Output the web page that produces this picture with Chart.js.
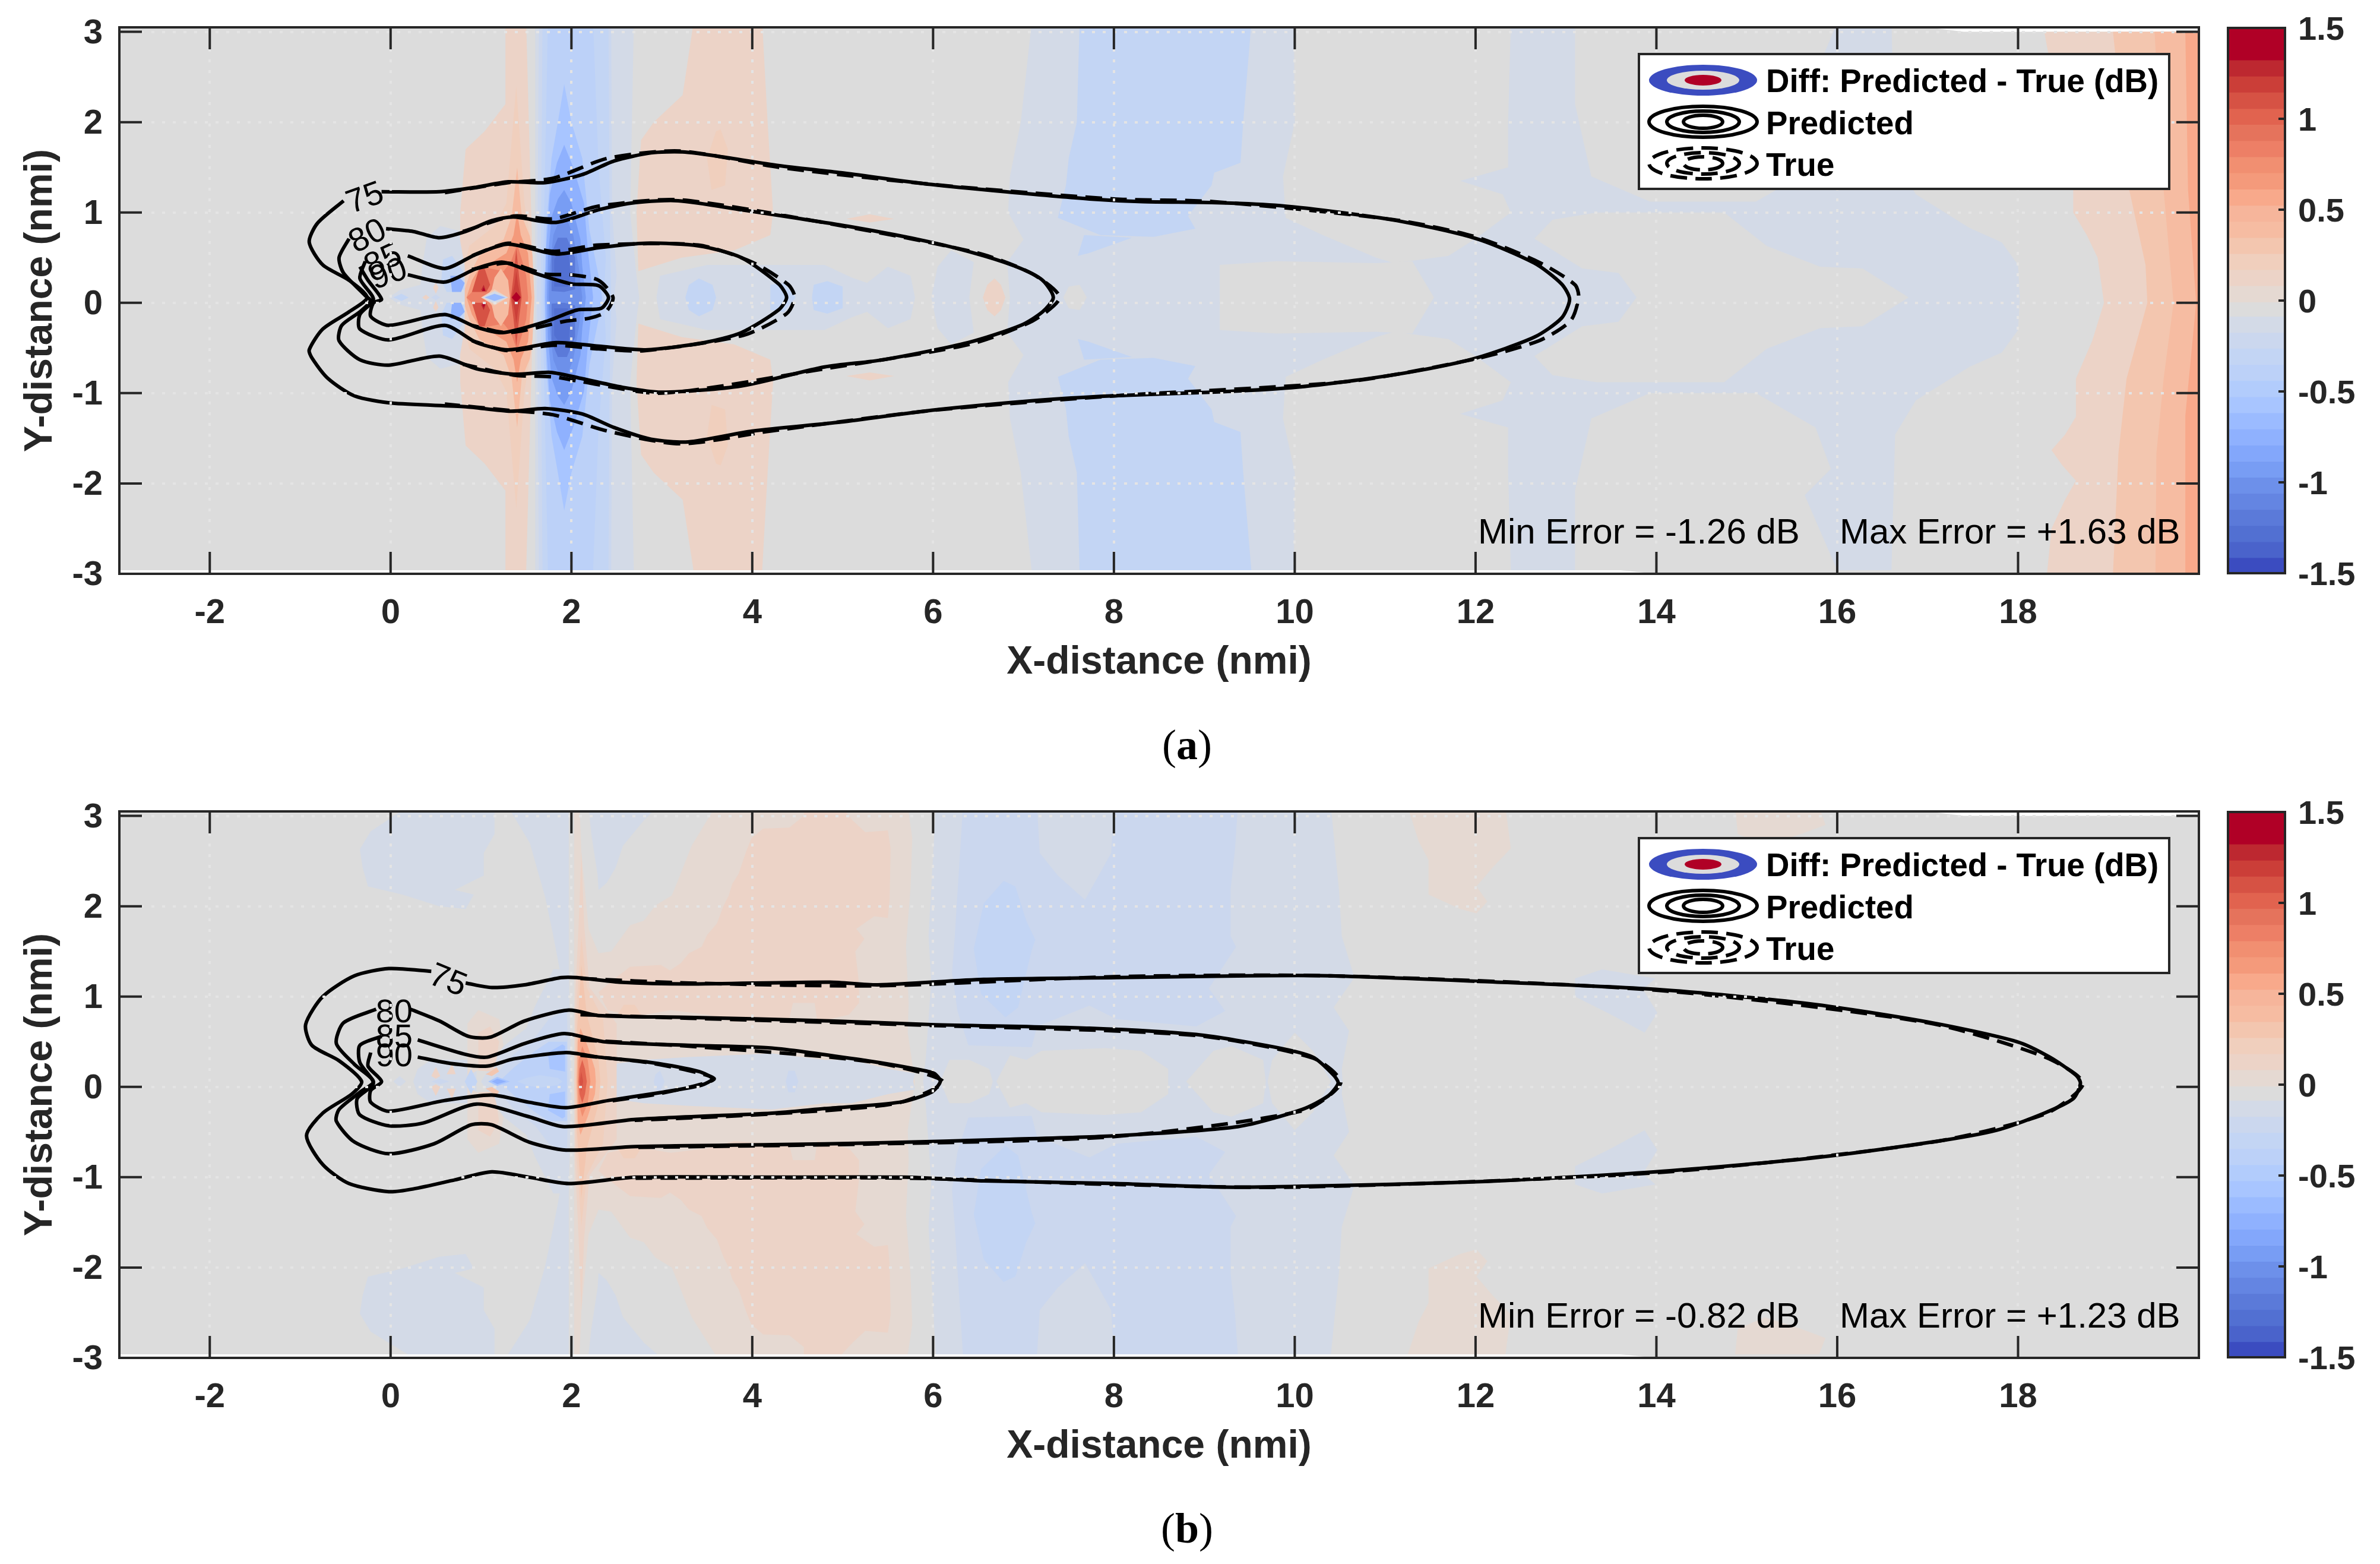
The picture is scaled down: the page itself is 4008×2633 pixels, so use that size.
<!DOCTYPE html>
<html>
<head>
<meta charset="utf-8">
<title>Predicted vs true noise contours</title>
<script src="https://cdn.jsdelivr.net/npm/chart.js@4/dist/chart.umd.min.js"></script>
<style>
  html, body { margin: 0; padding: 0; background: #fff; }
  body { position: relative; width: 4008px; height: 2633px; overflow: hidden; }
  canvas { position: absolute; }
  .cap { position: absolute; width: 200px; text-align: center; font: 72px "Liberation Serif", serif; color: #000; }
</style>
</head>
<body>
<canvas id="plotA" width="3720" height="1180" style="left:0;top:0"></canvas>
<canvas id="barA" width="288" height="1180" style="left:3720px;top:0"></canvas>
<div class="cap" style="left:1899px;top:1213px">(<b>a</b>)</div>
<canvas id="plotB" width="3720" height="1180" style="left:0;top:1320px"></canvas>
<canvas id="barB" width="288" height="1180" style="left:3720px;top:1320px"></canvas>
<div class="cap" style="left:1899px;top:2532px">(<b>b</b>)</div>

<script>
// axis ticks
var xTicks = [-2, 0, 2, 4, 6, 8, 10, 12, 14, 16, 18];
var yTicks = [-3, -2, -1, 0, 1, 2, 3];
var barTicks = [-1.5, -1, -0.5, 0, 0.5, 1, 1.5];

// colour bar bands, top edge down
var bandEdges = [1.5, 1.323, 1.234, 1.146, 1.056, 0.968, 0.879, 0.79, 0.702, 0.612, 0.523, 0.435, 0.346, 0.258, 0.169, 0.081, -0.009,
  -0.087, -0.176, -0.264, -0.353, -0.441, -0.53, -0.618, -0.707, -0.796, -0.884, -0.973, -1.061, -1.15, -1.238, -1.327, -1.415, -1.5];
var bandColors = ['#B00026', '#BD2830', '#CB3E38', '#D65244', '#E1634F', '#E5735C', '#ED7F66', '#F18F71', '#F49A7B', '#F8A98B', '#F6B59B', '#F6BCA2', '#F3C6AF', '#F0CFBD', '#ECD3C7', '#E5D9D2',
  '#DCDCDC', '#D3DAE7', '#CBD7EE', '#C3D5F4', '#BCD1F8', '#B2CCFC', '#A8C5FF', '#9BBBFF', '#8FB1FE', '#83A7FB', '#789DF4', '#6D90EA', '#6485E2', '#5B7AD9', '#5270D2', '#4A63CB', '#3B4CC0'];

var baseOutline = [-3, 3.05, 17, 3.05, 17.4, 3, 20, 3, 20, -3, 14, -3, 13.6, -2.96, -3, -2.96];

// filled patches: [kind, dB level, x,y outline]
// h = upper half, closed by its mirror; t = blob repeated below the axis; p = as drawn
var rightBlueA = [
  ['h', -0.13, [6.85,.06, 6.82,.45, 7,.7, 6.83,1, 6.85,1.4, 6.97,2, 7.09,3.1, 16.6,3.1, 16.64,1.58, 16.87,1.2, 17.46,.83, 17.82,.67, 18,.42, 18.02,.06]],
  ['t', -0.05, [9.99,3.1, 10,2, 9.87,1.4, 9.9,.94, 10.31,.75, 10.9,.5, 11.1,.44, 11.7,.52, 12,.71, 12.39,1, 12.3,1.2, 11.83,1.35, 12.36,1.5, 12.36,2, 12.39,3.1]],
  ['h', -0.05, [9.17,.06, 9.17,.42, 9.8,.46, 10.9,.44, 11.3,.46, 11.54,.06]],
  ['h', -0.05, [13.78,.06, 13.58,.33, 13.18,.38, 12.65,.71, 12.85,.92, 13.34,1, 14.75,1, 15.22,.63, 15.81,.4, 16.28,.38, 16.79,.06]],
  ['t', -0.05, [13.1,3.1, 13.1,2.2, 13.28,1.4, 13.93,1.12, 15.1,1.12, 15.76,1.5, 15.93,1.96, 15.64,2.25, 16,3.1]],
  ['t', -0.3, [7.62,3.1, 7.59,2, 7.5,1.6, 7.47,1.3, 7.38,.94, 7.85,.75, 8.44,.73, 8.9,.82, 8.82,.96, 9.08,1.3, 9.11,1.44, 9.4,1.55, 9.43,2, 9.52,3.1]],
  ['t', -0.3, [7.67,.75, 8.2,.72, 7.72,.55, 7.6,.52]],
  ['h', -0.05, [7.44,.06, 7.5,.18, 7.62,.2, 7.7,.06]],
  ['h', -0.13, [2.94,.06, 2.98,.3, 3.5,.42, 4.2,.42, 4.8,.42, 5.1,.28, 5.27,.22, 5.5,.4, 5.75,.3, 5.8,.06]],
  ['h', -0.13, [5.98,.06, 6.05,.4, 6.2,.58, 6.45,.45, 6.4,.06]],
  ['h', -0.3, [3.26,.06, 3.3,.2, 3.41,.27, 3.56,.2, 3.6,.06]],
  ['h', -0.3, [4.2,.06, 4.2,.2, 4.35,.22, 4.48,.06]],
  ['h', -0.3, [4.66,.06, 4.68,.2, 4.83,.24, 5,.18, 5,.06]],
  ['h', 0.12, [6.55,.06, 6.6,.2, 6.68,.27, 6.75,.2, 6.8,.06]],
  ['t', 0.12, [5.04,.93, 5.3,.98, 5.57,.93, 5.3,.89]]
];
var farRightA = [
  ['p', 0.12, [18.29,3, 18.61,1.26, 18.61,1, 18.76,.75, 18.88,.5, 18.95,0, 18.82,-.42, 18.64,-.84, 18.64,-1.26, 18.52,-1.46, 18.37,-1.63, 18.49,-1.8, 18.64,-1.97, 18.52,-2.18, 18.37,-2.5, 18.32,-3, 20,-3, 20,3]],
  ['p', 0.3, [19.05,3, 19.23,1.25, 19.41,.42, 19.43,0, 19.2,-.84, 19.11,-1.67, 19.05,-3, 20,-3, 20,3]],
  ['p', 0.4, [19.51,3, 19.61,1.25, 19.72,0, 19.61,-.84, 19.53,-1.67, 19.52,-3, 20,-3, 20,3]],
  ['p', 0.57, [19.85,3, 19.88,1.25, 19.97,0, 19.85,-1.25, 19.85,-3, 20,-3, 20,3]]
];
var nearPinkA = [
  ['t', 0.12, [2.74,.35, 2.72,1, 2.77,1.8, 2.91,2, 3.23,2.3, 3.35,3.1, 4.11,3.1, 4.17,2, 4.23,1, 4.2,.75, 3.8,.58, 3.22,.5]],
  ['t', 0.2, [3.5,1.6, 3.55,1.25, 3.7,1.3, 3.73,1.7, 3.65,1.92, 3.6,1.9]]
];
var centreBlueA = [
  ['h', -0.13, [1.6,.06, 1.6,3.1, 2.69,3.1, 2.65,1, 2.72,.3, 2.75,.06]],
  ['h', -0.22, [1.62,.06, 1.64,3.1, 2.44,3.1, 2.45,1, 2.5,.3, 2.47,.06]],
  ['h', -0.3, [1.66,.06, 1.68,3.1, 2.41,3.1, 2.42,1.2, 2.44,.06]],
  ['h', -0.4, [1.68,.06, 1.74,3.1, 2.24,3.1, 2.3,1.5, 2.38,.5, 2.36,.06]],
  ['h', -0.57, [1.7,.06, 1.72,.8, 1.78,1.6, 1.85,2, 1.92,2.42, 2,2, 2.12,1.6, 2.2,.8, 2.3,.3, 2.34,.06]],
  ['h', -0.75, [1.71,.06, 1.72,.6, 1.76,1.2, 1.84,1.55, 1.92,1.75, 2.02,1.5, 2.14,1.1, 2.18,.6, 2.24,.06]],
  ['h', -0.92, [1.73,.06, 1.74,.5, 1.78,.95, 1.85,1.15, 1.92,1.25, 2,1.1, 2.1,.7, 2.12,.4, 2.16,.06]],
  ['h', -1.02, [1.75,.06, 1.76,.4, 1.8,.75, 1.88,.95, 1.94,.95, 2.02,.75, 2.08,.4, 2.12,.06]],
  ['t', -1.2, [1.78,.13, 1.78,.55, 1.85,.72, 1.95,.72, 2.04,.5, 2.04,.15, 1.92,.12]],
  ['t', -1.28, [1.81,.18, 1.81,.48, 1.88,.58, 1.97,.55, 1.99,.3, 1.96,.18]]
];
var centreRedA = [
  ['h', 0.12, [.77,.06, .77,1, .83,1.7, 1.04,1.9, 1.27,2.2, 1.27,3.1, 1.5,3.1, 1.58,.06]],
  ['h', 0.2, [.74,.06, .87,.63, 1.15,.85, 1.28,1.1, 1.39,2.4, 1.48,1.1, 1.56,.63, 1.58,.06]],
  ['h', 0.4, [.79,.06, .87,.3, .98,.52, 1.25,.7, 1.34,.96, 1.4,1.5, 1.45,.96, 1.54,.74, 1.57,.52, 1.59,.06]],
  ['h', 0.65, [.84,.06, .9,.25, .96,.35, 1.28,.55, 1.36,.75, 1.4,1, 1.44,.75, 1.52,.55, 1.54,.3, 1.56,.06]],
  ['h', 0.85, [.88,.06, .95,.28, 1,.4, 1.1,.38, 1.25,.35, 1.33,.45, 1.4,.65, 1.46,.45, 1.5,.3, 1.52,.06]],
  ['h', 0.4, [1.05,.06, 1.12,.15, 1.15,.28, 1.22,.38, 1.3,.25, 1.32,.06]],
  ['t', 1.1, [.9,.12, .98,.38, 1.04,.38, 1.1,.2, 1.06,.12]],
  ['t', 1.28, [1,.14, 1.03,.2, 1.05,.14]],
  ['t', 1.4, [1.01,.13, 1.03,.17, 1.05,.13]],
  ['h', 1.1, [1.33,.06, 1.36,.3, 1.39,.6, 1.42,.3, 1.45,.06]],
  ['h', 1.2, [1.34,.06, 1.37,.2, 1.39,.35, 1.41,.2, 1.44,.06]],
  ['h', 1.4, [1.34,.06, 1.39,.12, 1.44,.06]],
  ['h', 0.85, [.84,.06, .9,.12, .92,.06]],
  ['h', 0.2, [1,.06, 1.15,.15, 1.3,.06]],
  ['h', -0.13, [1.02,.06, 1.15,.13, 1.3,.06]],
  ['h', -0.62, [1.04,.06, 1.15,.1, 1.27,.06]]
];
var leftSpecksA = [
  ['h', -0.13, [-.02,.06, .1,.14, .33,.2, .35,.4, .4,.72, .55,.85, .75,.8, .82,.4, .82,.06]],
  ['t', -0.3, [.62,.12, .56,.25, .58,.48, .68,.52, .8,.35, .82,.15, .72,.12]],
  ['t', -0.75, [.68,.12, .66,.3, .74,.3, .82,.22, .78,.12]],
  ['t', 0.12, [.47,.17, .5,.22, .53,.17, .5,.1]],
  ['h', 0.12, [.35,.06, .39,.09, .43,.06]],
  ['h', -0.22, [.45,.06, .5,.09, .55,.06]],
  ['h', -0.3, [.03,.06, .12,.1, .2,.06]]
];

var bigPinkB = [
  ['h', 0.05, [2.03,.06, 2.03,3.1, 5.72,3.1, 5.77,2.75, 5.75,2.2, 5.7,1.55, 5.73,.93, 5.72,.6, 5.8,.06]],
  ['t', -0.05, [2.09,3.1, 2.11,2.6, 2.19,1.75, 2.3,1.48, 2.44,1.5, 2.65,1.79, 2.8,1.84, 2.93,2.01, 3.11,2.12, 3.18,2.29, 3.33,2.67, 3.59,3.1]],
  ['t', -0.13, [2.19,3.1, 2.22,2.8, 2.29,2.34, 2.3,2.18, 2.39,2.26, 2.49,2.43, 2.57,2.67, 2.8,2.95, 2.95,3.1]],
  ['t', 0.12, [4.57,3.1, 4.57,3, 4.41,2.87, 4.12,2.86, 3.99,2.75, 3.93,2.6, 3.85,2.36, 3.78,2.25, 3.74,2.12, 3.68,2, 3.61,1.81, 3.5,1.68, 3.44,1.55, 3.3,1.48, 3.21,1.37, 3.09,1.29, 2.99,1.35, 2.65,1.33, 2.48,1.2, 2.3,1.05, 2.4,.85, 2.7,.78, 3.1,.85, 3.5,.8, 3.8,.72, 4.41,.76, 4.45,.93, 4.69,.93, 4.72,.72, 5.07,.8, 5.18,.93, 5.18,1.15, 5.14,1.5, 5.24,1.64, 5.15,1.75, 5.35,1.89, 5.5,1.87, 5.52,2.1, 5.53,2.64, 5.5,2.84, 5.25,2.82, 5.11,2.95, 4.99,3.1]],
  ['t', 0.2, [2.51,.8, 2.58,.91, 2.7,.91, 2.77,.8]],
  ['h', -0.13, [2.4,.06, 2.45,.25, 2.8,.3, 3.3,.33, 4.22,.37, 4.8,.3, 5.1,.3, 5.5,.2, 5.8,.15, 5.78,.06]],
  ['h', -0.22, [2.91,.06, 2.93,.14, 2.98,.18, 3.03,.06]],
  ['h', -0.22, [4.37,.06, 4.4,.18, 4.47,.18, 4.51,.06]]
];
var rightBlueB = [
  ['h', -0.13, [5.89,.06, 5.92,.33, 5.98,1.17, 5.95,1.67, 6.03,3.1, 10.4,3.1, 10.49,2.17, 10.52,1.67, 10.66,1.21, 10.43,.88, 10.6,.62, 10.52,.2, 10.53,.06]],
  ['t', -0.22, [6.33,3.1, 6.24,1.67, 6.21,1.26, 6.27,.84, 6.39,.46, 7.09,.44, 7.15,.67, 7.73,.9, 8.03,.75, 8.91,.67, 9.23,.84, 9.05,1.09, 9.35,1.55, 9.29,1.67, 9.29,2.18, 9.34,2.64, 9.37,3.1, 8,3.1, 7.97,2.59, 7.68,2.07, 7.38,2.34, 7.18,2.59, 7.15,3.1]],
  ['t', -0.3, [6.78,2.28, 6.56,2.03, 6.45,1.53, 6.53,1.03, 6.8,.77, 6.94,.88, 7.09,1.51, 7.13,1.63, 7.03,1.84, 6.91,2.22]],
  ['h', -0.05, [6.08,.06, 6.18,.3, 6.4,.3, 6.62,.2, 6.66,.06]],
  ['h', -0.05, [6.7,.06, 6.85,.35, 7.03,.3, 7.2,.4, 7.9,.43, 8.3,.4, 8.6,.2, 8.6,.06]],
  ['h', -0.05, [8.8,.06, 9.1,.4, 9.3,.45, 9.65,.3, 9.68,.06]],
  ['h', -0.05, [9.7,.06, 9.75,.3, 10,.6, 10.2,.4, 10.4,.06]],
  ['t', 0.05, [11.25,3.1, 11.37,2.72, 11.48,2.51, 11.48,2.13, 11.83,1.97, 12.01,1.92, 12.13,2.05, 12.01,2.22, 12.19,2.43, 12.39,2.64, 12.33,3.1]],
  ['t', 0.05, [14.87,3.1, 14.9,2.8, 15.2,2.67, 15.6,2.8, 15.87,2.9, 15.8,3.1]],
  ['t', -0.13, [13.1,1.2, 13.4,1.3, 13.99,1.2, 13.85,1.08, 14.01,.82, 13.87,.6, 13.5,.8, 13.1,1]]
];
var leftB = [
  ['t', -0.13, [.19,3.1, -.22,2.83, -.34,2.63, -.31,2.43, -.25,2.22, .13,2.13, .54,2, .83,1.97, .92,2.13, .71,2.18, 1.03,2.34, 1.03,2.59, 1.15,2.8, 1.15,3.1]],
  ['t', -0.13, [1.3,3.1, 1.54,2.7, 1.71,2.1, 1.8,1.67, 1.88,1.25, 1.97,1.2, 1.97,3.1]],
  ['h', -0.13, [.25,.06, .3,.2, .45,.3, .95,.3, .95,.06]],
  ['h', -0.13, [1,.06, 1.25,.45, 1.5,.65, 1.6,.9, 1.8,1.3, 1.97,1.3, 2,.06]],
  ['h', -0.22, [1.1,.06, 1.35,.35, 1.6,.55, 1.75,.75, 1.95,.85, 1.97,.06]],
  ['h', -0.4, [1.2,.06, 1.37,.22, 1.6,.4, 1.75,.5, 1.95,.5, 1.95,.06]],
  ['t', -0.57, [1.76,.2, 1.74,.38, 1.9,.47, 1.93,.45, 1.93,.17]],
  ['h', -0.3, [1.4,.06, 1.5,.1, 1.65,.13, 1.85,.1, 1.9,.06]],
  ['t', 0.05, [.85,.12, .85,.7, .97,.85, 1.2,.75, 1.25,.45, 1.08,.25]],
  ['t', 0.12, [.97,.18, .97,.6, 1.1,.67, 1.2,.5, 1.17,.3, 1.13,.17]],
  ['t', 0.3, [1.05,.14, 1.12,.18, 1.17,.22, 1.2,.17, 1.12,.12]],
  ['h', -0.57, [1.08,.06, 1.18,.11, 1.32,.06]],
  ['h', -0.75, [1.12,.06, 1.18,.09, 1.28,.06]],
  ['t', 0.12, [.45,.12, .5,.22, .55,.12, .5,.09]],
  ['t', 0.12, [.62,.14, .68,.25, .72,.14]],
  ['h', -0.13, [.03,.06, .1,.12, .17,.06]],
  ['h', -0.22, [.45,.06, .55,.09, .65,.06]],
  ['h', -0.3, [.82,.06, .89,.2, .96,.06]]
];
var redStripB = [
  ['h', 0.12, [2.03,.06, 2.04,.95, 2.08,1.8, 2.11,2.6, 2.14,1.8, 2.2,1.1, 2.5,.7, 2.5,.06]],
  ['h', 0.2, [2.04,.06, 2.05,.8, 2.11,1.66, 2.17,1.1, 2.35,.75, 2.4,.06]],
  ['h', 0.3, [2.05,.06, 2.06,.6, 2.11,1.35, 2.17,.8, 2.3,.3, 2.32,.06]],
  ['h', 0.55, [2.06,.06, 2.07,.5, 2.1,.65, 2.18,.45, 2.26,.2, 2.27,.06]],
  ['h', 0.75, [2.07,.06, 2.08,.3, 2.12,.45, 2.18,.3, 2.21,.06]],
  ['h', 1.0, [2.08,.06, 2.09,.2, 2.12,.3, 2.15,.2, 2.17,.06]],
  ['h', 1.1, [2.09,.06, 2.11,.17, 2.13,.06]]
];

// contours, x,y along each line. predicted then true
var predA75 = [-.1,1.23, .54,1.23, .95,1.28, 1.3,1.34, 1.71,1.33, 2.12,1.42, 2.47,1.57, 2.88,1.66, 3.23,1.67, 3.64,1.62, 4.29,1.52, 4.98,1.44, 5.98,1.31, 6.8,1.23, 7.73,1.15, 8.32,1.12, 9.08,1.11, 9.78,1.08, 10.43,1.01, 11.13,.91, 12.01,.71, 12.65,.44, 12.95,.21, 13.04,.04, 12.95,-.17, 12.65,-.38, 12.01,-.61, 11.37,-.75, 10.66,-.86, 9.96,-.94, 9.08,-.99, 7.97,-1.03, 7.15,-1.08, 5.98,-1.19, 4.98,-1.32, 4,-1.42, 3.29,-1.54, 2.88,-1.51, 2.47,-1.38, 2.12,-1.23, 1.71,-1.17, 1.33,-1.2, .83,-1.15, .01,-1.11, -.4,-1.03, -.69,-.84, -.87,-.61, -.9,-.52, -.75,-.29, -.46,-.1, -.26,.06, -.46,.25, -.75,.42, -.9,.67, -.81,.88, -.52,1.13];
var predA80 = [-.05,.82, .25,.79, .54,.72, .83,.79, 1.12,.91, 1.36,.95, 1.83,.89, 2.3,1.03, 2.71,1.11, 3.18,1.13, 3.88,1.03, 5.1,.84, 5.98,.67, 6.56,.52, 6.97,.38, 7.21,.25, 7.33,.06, 7.21,-.1, 6.97,-.25, 6.39,-.44, 5.45,-.63, 4.8,-.71, 3.88,-.92, 3,-.99, 2.59,-.94, 2.12,-.84, 1.77,-.77, 1.36,-.79, .95,-.73, .54,-.59, -.02,-.69, -.34,-.63, -.57,-.42, -.54,-.25, -.34,-.1, -.22,.02, -.28,.08, -.52,.33, -.57,.5, -.46,.71];
var predA85 = [.19,.52, .6,.38, .95,.54, 1.3,.65, 1.83,.54, 2.3,.61, 2.82,.66, 3.41,.63, 3.88,.5, 4.29,.21, 4.38,.06, 4.29,-.08, 3.88,-.33, 3.47,-.44, 2.82,-.52, 2.3,-.48, 1.83,-.44, 1.3,-.52, .95,-.44, .6,-.25, -.02,-.41, -.34,-.29, -.34,-.13, -.19,.04, -.34,.27, -.28,.46];
var predA90 = [.19,.31, .6,.23, .95,.38, 1.24,.45, 1.59,.33, 2,.21, 2.3,.19, 2.41,.06, 2.33,-.06, 2.06,-.08, 1.71,-.21, 1.24,-.33, .95,-.27, .6,-.13, -.02,-.25, -.22,-.15, -.19,0, -.1,.04, -.25,.25, -.34,.4];
var trueA75 = [.6,1.22, 1.3,1.33, 1.8,1.38, 2.4,1.6, 3.2,1.68, 4.3,1.5, 6,1.31, 8,1.15, 9.1,1.12, 11.1,.92, 12,.73, 12.7,.45, 13.1,.2, 13.14,.06, 13.05,-.2, 12.7,-.42, 12,-.62, 10.6,-.87, 8,-1.03, 6,-1.19, 4.2,-1.42, 3.2,-1.56, 2.4,-1.42, 1.8,-1.24, 1.3,-1.19, .6,-1.12];
var trueA80 = [.8,.79, 1.36,.96, 1.8,.93, 2.3,1.07, 3.2,1.14, 5,.85, 6.5,.55, 7.1,.32, 7.4,.06, 7.1,-.2, 6.4,-.46, 4.8,-.73, 3,-1, 2.1,-.87, 1.8,-.82, 1.36,-.8, .8,-.68];
var trueA85 = [.9,.52, 1.3,.66, 1.8,.57, 2.3,.64, 3.4,.64, 4,.45, 4.4,.2, 4.47,.06, 4.38,-.12, 3.9,-.36, 2.8,-.53, 2.3,-.51, 1.8,-.47, 1.3,-.53, .9,-.42];
var trueA90 = [.9,.37, 1.3,.44, 1.7,.32, 2,.31, 2.3,.25, 2.46,.06, 2.38,-.1, 2.2,-.17, 1.95,-.2, 1.3,-.33, .9,-.25];

var predB75 = [.83,1.15, 1.12,1.1, 1.48,1.13, 1.89,1.21, 2.06,1.21, 2.53,1.16, 3.29,1.14, 4.86,1.16, 5.39,1.13, 6.56,1.19, 8.03,1.21, 9.49,1.23, 10.37,1.23, 12.01,1.17, 13.99,1.08, 15.7,.92, 17.05,.71, 17.99,.5, 18.35,.33, 18.64,.13, 18.69,.04, 18.61,-.13, 18.29,-.29, 17.76,-.48, 17.05,-.61, 15.7,-.79, 13.99,-.94, 12.01,-1.05, 10.08,-1.1, 9.2,-1.11, 8.03,-1.07, 6.56,-1.04, 5.68,-1, 4.22,-1, 2.71,-1, 1.97,-1.07, 1.53,-1, 1.12,-.94, .71,-1.03, .25,-1.13, -.02,-1.16, -.46,-1.07, -.75,-.86, -.93,-.54, -.75,-.29, -.43,-.08, -.32,.06, -.57,.29, -.87,.46, -.94,.69, -.75,1, -.4,1.23, -.02,1.31, .45,1.28];
var predB80 = [.22,.86, .54,.73, .86,.56, 1.1,.55, 1.48,.73, 1.97,.85, 2.3,.79, 3.29,.77, 4.86,.73, 5.98,.69, 7.73,.65, 8.91,.58, 9.78,.44, 10.2,.33, 10.43,.13, 10.48,.04, 10.37,-.1, 10.08,-.25, 9.37,-.44, 8.03,-.54, 6.85,-.58, 5.39,-.62, 4.22,-.64, 2.71,-.66, 1.94,-.7, 1.53,-.61, 1.12,-.42, .89,-.42, .48,-.63, -.02,-.74, -.4,-.61, -.6,-.38, -.57,-.25, -.34,-.06, -.19,.06, -.4,.25, -.6,.48, -.52,.71, -.16,.86];
var predB85 = [.3,.52, .83,.36, 1.07,.33, 1.48,.48, 1.92,.59, 2.36,.5, 3.29,.46, 4.22,.43, 5.27,.29, 5.8,.2, 6.01,.15, 6.08,.06, 5.98,-.06, 5.63,-.17, 4.8,-.24, 4.22,-.29, 2.71,-.36, 1.92,-.44, 1.53,-.33, .95,-.19, .36,-.4, -.02,-.43, -.34,-.31, -.37,-.13, -.19,.04, -.34,.27, -.34,.46, -.1,.56];
var predB90 = [.3,.33, .66,.26, 1.07,.23, 1.36,.31, 1.94,.38, 2.3,.33, 2.88,.27, 3.41,.17, 3.56,.09, 3.44,.02, 3,-.06, 2.41,-.15, 1.94,-.23, 1.53,-.17, 1.12,-.09, .6,-.15, -.02,-.27, -.22,-.17, -.22,-.04, -.1,.06, -.25,.23, -.22,.38];
var trueB75 = [2.1,1.2, 3.3,1.15, 5.4,1.12, 8,1.22, 10.4,1.23, 14,1.07, 17,.71, 18.3,.33, 18.72,.04, 18.3,-.3, 17,-.62, 14,-.95, 10,-1.11, 8,-1.08, 5.7,-1.01, 2.7,-1.01];
var trueB80 = [2.1,.8, 3.3,.76, 6,.68, 8.9,.57, 10.2,.32, 10.51,.05, 10.1,-.26, 8,-.55, 5.4,-.63, 2.7,-.67];
var trueB85 = [2.1,.52, 3.3,.45, 5.3,.28, 6.11,.06, 5.6,-.18, 4.2,-.3, 2.7,-.37];
var trueB90 = [2.1,.35, 2.9,.26, 3.58,.09, 3,-.07, 2.4,-.16];

// contour level labels
var labelTextA = ['75', '80', '85', '90'];
var labelXA = [-.28, -.25, -.08, -.02];
var labelYA = [1.15, .73, .46, .31];
var labelAngleA = [-20, -27, -25, -20];
var labelTextB = ['75', '80', '85', '90'];
var labelXB = [.63, .04, .04, .04];
var labelYB = [1.17, .82, .54, .33];
var labelAngleB = [22, 0, 0, 0];

var legendLabels = ['Diff: Predicted - True (dB)', 'Predicted', 'True'];

var inkColor = '#262626';
var fontName = '"Liberation Sans", Arial, sans-serif';

function colorFor(level) {
  for (var i = 0; i < bandColors.length; i++) {
    if (level <= bandEdges[i] && level > bandEdges[i + 1]) return bandColors[i];
  }
  return bandColors[16];
}

function toPoints(flat) {
  var out = [];
  for (var i = 0; i < flat.length; i += 2) out.push({x: flat[i], y: flat[i + 1]});
  return out;
}

// the field is symmetric about y = 0.06
function mirrored(points) {
  return points.map(function (p) { return {x: p.x, y: Math.max(0.12 - p.y, -2.96)}; });
}

function fillDataset(points, level) {
  return {
    data: points, showLine: true, fill: 'shape', backgroundColor: colorFor(level),
    borderWidth: 0, pointRadius: 0, tension: 0
  };
}

function patchDatasets(groups) {
  var out = [];
  groups.forEach(function (group) {
    group.forEach(function (patch) {
      var pts = toPoints(patch[2]);
      if (patch[0] === 'h') {
        out.push(fillDataset(pts.concat(mirrored(pts).reverse()), patch[1]));
      } else if (patch[0] === 't') {
        out.push(fillDataset(pts, patch[1]));
        out.push(fillDataset(mirrored(pts), patch[1]));
      } else {
        out.push(fillDataset(pts, patch[1]));
      }
    });
  });
  return out;
}

function contourDataset(flat, dashed) {
  return {
    data: toPoints(flat), showLine: true, fill: false, borderColor: '#000', borderWidth: 6,
    borderDash: dashed ? [28, 14] : [], pointRadius: 0, tension: 0.25
  };
}

// tick labels at the ends of an axis must not push the plot area in
function noMargins(s) {
  s.paddingTop = 0; s.paddingBottom = 0; s.paddingLeft = 0; s.paddingRight = 0;
}

// frame, inward ticks, legend and the error note sit on top of everything
function panelPlugin(labels, minNote, maxNote) {
  return {
    id: 'panelExtras',
    afterDatasetsDraw: function (chart) {
      var ctx = chart.ctx, sx = chart.scales.x, sy = chart.scales.y;
      ctx.save();
      ctx.fillStyle = '#000';
      ctx.font = '56px ' + fontName;
      ctx.textAlign = 'center';
      ctx.textBaseline = 'middle';
      labels.text.forEach(function (t, i) {
        ctx.save();
        ctx.translate(sx.getPixelForValue(labels.x[i]), sy.getPixelForValue(labels.y[i]));
        ctx.rotate(labels.angle[i] * Math.PI / 180);
        ctx.fillText(t, 0, 0);
        ctx.restore();
      });
      ctx.restore();
    },
    afterDraw: function (chart) {
      var ctx = chart.ctx, a = chart.chartArea, sx = chart.scales.x, sy = chart.scales.y;
      ctx.save();
      ctx.strokeStyle = inkColor;
      ctx.lineWidth = 4;
      ctx.beginPath();
      xTicks.forEach(function (v) {
        var px = sx.getPixelForValue(v);
        ctx.moveTo(px, a.bottom); ctx.lineTo(px, a.bottom - 37);
        ctx.moveTo(px, a.top); ctx.lineTo(px, a.top + 37);
      });
      yTicks.forEach(function (v) {
        var py = sy.getPixelForValue(v);
        ctx.moveTo(a.left, py); ctx.lineTo(a.left + 38, py);
        ctx.moveTo(a.right, py); ctx.lineTo(a.right - 38, py);
      });
      ctx.stroke();
      ctx.strokeRect(a.left, a.top, a.right - a.left, a.bottom - a.top);

      // legend box
      ctx.fillStyle = '#fff';
      ctx.fillRect(2760, 91, 893, 227);
      ctx.strokeRect(2760, 91, 893, 227);
      var cx = 2868;
      [[91, 26, '#3B4CC0'], [61, 16, '#DCDCDC'], [31, 9, '#B00026']].forEach(function (e) {
        ctx.fillStyle = e[2];
        ctx.beginPath(); ctx.ellipse(cx, 135, e[0], e[1], 0, 0, 2 * Math.PI); ctx.fill();
      });
      ctx.strokeStyle = '#000';
      ctx.lineWidth = 6;
      [[205, []], [275, [28, 14]]].forEach(function (row) {
        ctx.setLineDash(row[1]);
        [[91, 26], [61, 18], [33, 11]].forEach(function (e) {
          ctx.beginPath(); ctx.ellipse(cx, row[0], e[0], e[1], 0, 0, 2 * Math.PI); ctx.stroke();
        });
      });
      ctx.setLineDash([]);
      ctx.fillStyle = '#000';
      ctx.textAlign = 'left';
      ctx.textBaseline = 'alphabetic';
      ctx.font = 'bold 54.6px ' + fontName;
      ctx.fillText(legendLabels[0], 2974, 155);
      ctx.fillText(legendLabels[1], 2974, 226);
      ctx.fillText(legendLabels[2], 2974, 296);

      ctx.font = '60px ' + fontName;
      ctx.fillText(minNote, 2489, 915);
      ctx.fillText(maxNote, 3098, 915);
      ctx.restore();
    }
  };
}

function buildPanel(id, groups, contours, labels, minNote, maxNote) {
  var painted = [fillDataset(toPoints(baseOutline), -0.05)].concat(patchDatasets(groups));
  var lines = contours.map(function (c) { return contourDataset(c[0], c[1]); });
  // first dataset ends up on top
  var datasets = painted.concat(lines).reverse();
  new Chart(document.getElementById(id), {
    type: 'scatter',
    data: {datasets: datasets},
    plugins: [panelPlugin(labels, minNote, maxNote)],
    options: {
      responsive: false,
      animation: false,
      events: [],
      layout: {padding: {top: 46, right: 17, left: 0, bottom: 0}},
      plugins: {legend: {display: false}, tooltip: {enabled: false}},
      scales: {
        x: {
          type: 'linear', min: -3, max: 20,
          afterBuildTicks: function (s) { s.ticks = xTicks.map(function (v) { return {value: v}; }); },
          afterFit: function (s) { s.height = 214; noMargins(s); },
          border: {display: false, dash: [5, 13]},
          grid: {color: '#E4E4E4', lineWidth: 4, drawTicks: false, z: 1},
          ticks: {color: inkColor, padding: 32, maxRotation: 0, autoSkip: false, font: {family: fontName, size: 58, weight: 'bold'},
            callback: function (v) { return String(v); }},
          title: {display: true, text: 'X-distance (nmi)', color: inkColor, padding: {top: 0, bottom: 25}, font: {family: fontName, size: 66, weight: 'bold'}}
        },
        y: {
          type: 'linear', min: -3, max: 3.05,
          afterBuildTicks: function (s) { s.ticks = yTicks.map(function (v) { return {value: v}; }); },
          afterFit: function (s) { s.width = 201; noMargins(s); },
          border: {display: false, dash: [5, 13]},
          grid: {color: '#E4E4E4', lineWidth: 4, drawTicks: false, z: 1},
          ticks: {color: inkColor, padding: 28, labelOffset: 3, autoSkip: false, font: {family: fontName, size: 58, weight: 'bold'},
            callback: function (v) { return String(v); }},
          title: {display: true, text: 'Y-distance (nmi)', color: inkColor, padding: {top: 29, bottom: 0}, font: {family: fontName, size: 66, weight: 'bold'}}
        }
      }
    }
  });
}

function buildColorbar(id) {
  var sets = bandColors.map(function (c, i) {
    return {data: [[bandEdges[i + 1], bandEdges[i]]], backgroundColor: c, borderWidth: 0, barPercentage: 1, categoryPercentage: 1};
  });
  new Chart(document.getElementById(id), {
    type: 'bar',
    data: {labels: [''], datasets: sets},
    plugins: [{
      id: 'barFrame',
      afterDraw: function (chart) {
        var ctx = chart.ctx, a = chart.chartArea, sy = chart.scales.y;
        ctx.save();
        ctx.strokeStyle = inkColor;
        ctx.lineWidth = 4;
        ctx.beginPath();
        barTicks.forEach(function (v) {
          var py = sy.getPixelForValue(v);
          ctx.moveTo(a.right, py); ctx.lineTo(a.right - 11, py);
        });
        ctx.stroke();
        ctx.strokeRect(a.left, a.top, a.right - a.left, a.bottom - a.top);
        ctx.restore();
      }
    }],
    options: {
      responsive: false,
      animation: false,
      events: [],
      layout: {padding: {top: 47, left: 32, right: 0, bottom: 215}},
      plugins: {legend: {display: false}, tooltip: {enabled: false}},
      scales: {
        x: {display: false, stacked: true},
        y: {
          position: 'right', min: -1.5, max: 1.5, stacked: false,
          afterBuildTicks: function (s) { s.ticks = barTicks.map(function (v) { return {value: v}; }); },
          afterFit: function (s) { s.width = 160; noMargins(s); },
          border: {display: false},
          grid: {display: false, drawTicks: false},
          ticks: {color: inkColor, padding: 22, labelOffset: 5, autoSkip: false, font: {family: fontName, size: 56, weight: 'bold'},
            callback: function (v) { return String(v); }}
        }
      }
    }
  });
}

buildPanel('plotA', [rightBlueA, farRightA, nearPinkA, centreBlueA, centreRedA, leftSpecksA],
  [[predA75, false], [predA80, false], [predA85, false], [predA90, false], [trueA75, true], [trueA80, true], [trueA85, true], [trueA90, true]],
  {text: labelTextA, x: labelXA, y: labelYA, angle: labelAngleA},
  'Min Error = -1.26 dB', 'Max Error = +1.63 dB');
buildPanel('plotB', [bigPinkB, rightBlueB, leftB, redStripB],
  [[predB75, false], [predB80, false], [predB85, false], [predB90, false], [trueB75, true], [trueB80, true], [trueB85, true], [trueB90, true]],
  {text: labelTextB, x: labelXB, y: labelYB, angle: labelAngleB},
  'Min Error = -0.82 dB', 'Max Error = +1.23 dB');
buildColorbar('barA');
buildColorbar('barB');
</script>
</body>
</html>
